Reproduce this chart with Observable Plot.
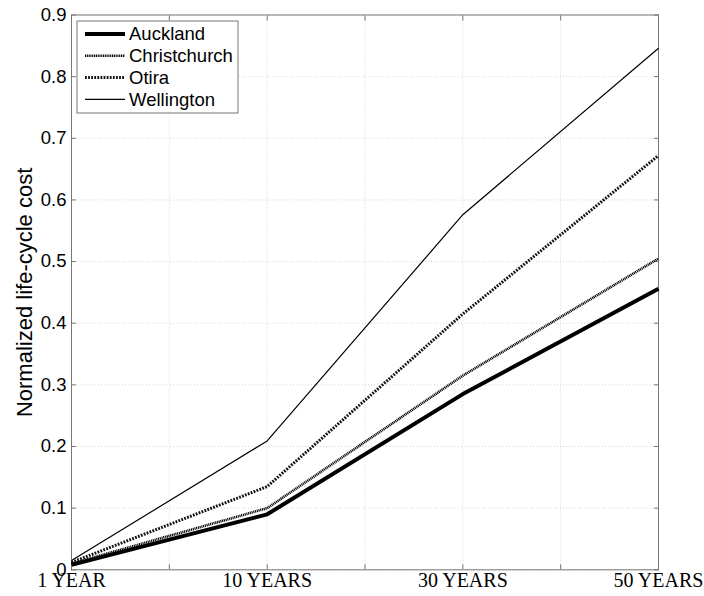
<!DOCTYPE html>
<html><head><meta charset="utf-8">
<script src="https://cdn.jsdelivr.net/npm/d3@7"></script>
<script src="https://cdn.jsdelivr.net/npm/@observablehq/plot@0.6"></script>
<style>body{margin:0;background:#fff;} svg{display:block;}</style>
</head><body><div id="chart"></div>
<script>
const periods = ["1 YEAR", "10 YEARS", "30 YEARS", "50 YEARS"];
const auckland = [0.008, 0.090, 0.285, 0.456];
const christchurch = [0.010, 0.100, 0.315, 0.505];
const otira = [0.012, 0.135, 0.415, 0.672];
const wellington = [0.015, 0.209, 0.576, 0.846];
const yTicks = [0, 0.1, 0.2, 0.3, 0.4, 0.5, 0.6, 0.7, 0.8, 0.9];
const xTicks = [1, 1.5, 2, 2.5, 3, 3.5, 4];
const yLabel = "Normalized life-cycle cost";

const seriesDefs = [
  {name: "Auckland", values: auckland, stroke: "#000", width: 4, dash: null},
  {name: "Christchurch", values: christchurch, stroke: "#000", width: 2.6, dash: "1.1,0.7"},
  {name: "Otira", values: otira, stroke: "#111", width: 3, dash: "1.8,1.3"},
  {name: "Wellington", values: wellington, stroke: "#000", width: 1.2, dash: null}
];
const rows = s => s.values.map((v, i) => ({x: i + 1, y: v}));

const axisGray = "#777";
const sans = "'Liberation Sans', Arial, Helvetica, sans-serif";
const serif = "'Liberation Serif', 'Times New Roman', serif";

const chart = Plot.plot({
  width: 704, height: 596,
  marginLeft: 71, marginRight: 46, marginTop: 14.5, marginBottom: 26.7,
  style: {background: "#fff", overflow: "visible"},
  x: {type: "linear", domain: [1, 4]},
  y: {domain: [0, 0.9]},
  marks: [
    Plot.gridX(xTicks, {stroke: "#bbb", strokeOpacity: 0.6, strokeDasharray: "1,2"}),
    Plot.gridY(yTicks, {stroke: "#bbb", strokeOpacity: 0.6, strokeDasharray: "1,2"}),
    Plot.frame({stroke: axisGray}),
    Plot.axisX(xTicks, {anchor: "bottom", tickSize: -5, tickPadding: 8, stroke: axisGray,
      tickFormat: d => Number.isInteger(d) ? periods[d - 1] : "",
      fontFamily: serif, fontSize: 20, fill: "#000", label: null}),
    Plot.axisX(xTicks, {anchor: "top", tickSize: -5, stroke: axisGray, tickFormat: () => "", label: null}),
    Plot.axisY(yTicks, {anchor: "left", tickSize: -5, tickPadding: 10, stroke: axisGray,
      tickFormat: d => d === 0 ? "0" : d3.format(".1f")(d),
      fontFamily: sans, fontSize: 18.5, fill: "#000", label: null}),
    Plot.axisY(yTicks, {anchor: "right", tickSize: -5, stroke: axisGray, tickFormat: () => "", label: null}),
    Plot.text([yLabel], {frameAnchor: "left", rotate: -90, dx: -47, text: d => d, textAnchor: "middle",
      fontFamily: sans, fontSize: 22, fill: "#000"}),
    ...seriesDefs.map(s => Plot.line(rows(s), {x: "x", y: "y", stroke: s.stroke,
      strokeWidth: s.width, strokeDasharray: s.dash, strokeLinejoin: "miter", strokeLinecap: "butt"}))
  ]
});
document.getElementById("chart").appendChild(chart);

// legend inside the plot area (top-left)
const svg = d3.select(chart);
const lg = svg.append("g").attr("transform", "translate(77,21)");
lg.append("rect").attr("width", 161).attr("height", 92).attr("fill", "#fff").attr("stroke", axisGray).attr("stroke-width", 1);
seriesDefs.forEach((s, i) => {
  const yy = 13 + i * 21.8;
  lg.append("line").attr("x1", 8).attr("x2", 48).attr("y1", yy).attr("y2", yy)
    .attr("stroke", s.stroke).attr("stroke-width", s.width)
    .attr("stroke-dasharray", s.dash);
  lg.append("text").attr("x", 52).attr("y", yy).attr("dy", "0.35em")
    .attr("text-anchor", "start").attr("fill", "#000")
    .attr("font-family", sans).attr("font-size", 18.5).text(s.name);
});
</script></body></html>
